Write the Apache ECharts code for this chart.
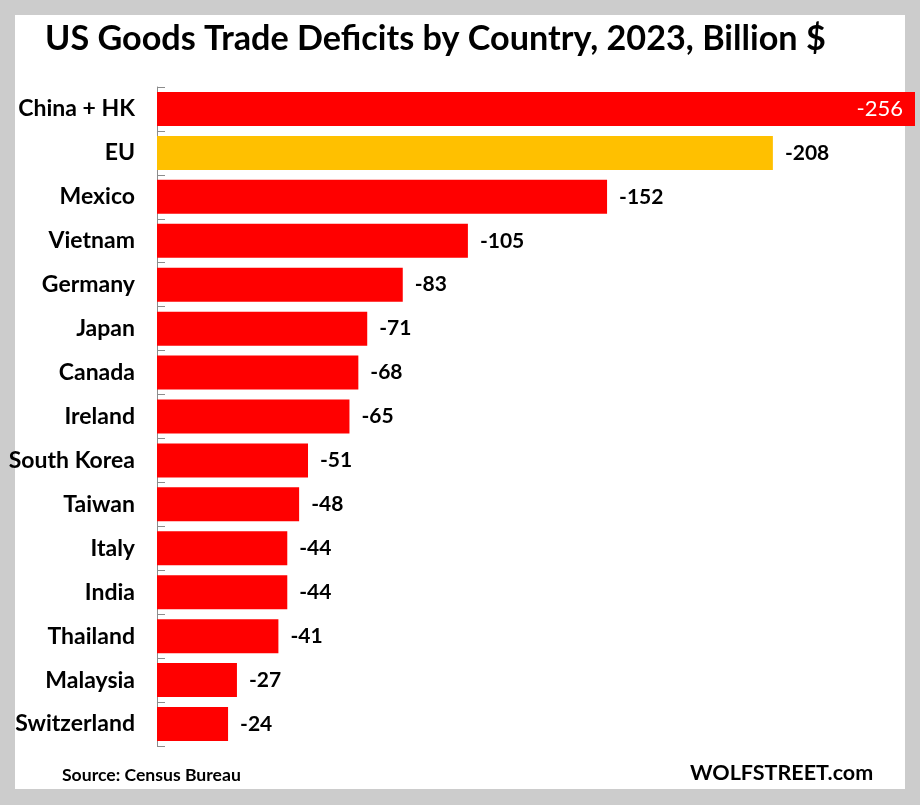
<!DOCTYPE html>
<html>
<head>
<meta charset="utf-8">
<script src="https://cdn.jsdelivr.net/npm/echarts@6/dist/echarts.min.js"></script>
<style>html,body{margin:0;padding:0;background:#cccccc;}#chart{width:920px;height:805px;}</style>
</head>
<body>
<div id="chart"></div>
<script>
const categories = ["China + HK","EU","Mexico","Vietnam","Germany","Japan","Canada","Ireland","South Korea","Taiwan","Italy","India","Thailand","Malaysia","Switzerland"];
const deficits = [-256,-208,-152,-105,-83,-71,-68,-65,-51,-48,-44,-44,-41,-27,-24];
const barColors = ["#ff0000","#ffc000","#ff0000","#ff0000","#ff0000","#ff0000","#ff0000","#ff0000","#ff0000","#ff0000","#ff0000","#ff0000","#ff0000","#ff0000","#ff0000"];
const titleText = "US Goods Trade Deficits by Country, 2023, Billion $";
const sourceText = "Source: Census Bureau";
const brandText = "WOLFSTREET.com";

const FONT = "Lato";
const chart = echarts.init(document.getElementById('chart'), null, {renderer:'canvas'});
const seriesData = deficits.map((v,i) => {
  const d = {value: v, itemStyle: {color: barColors[i]}};
  if (i === 0) {
    d.label = {position: 'insideRight', color: '#ffffff', fontWeight: 'normal', fontSize: 22, distance: 12};
  }
  return d;
});
chart.setOption({
  backgroundColor: '#cccccc',
  animation: false,
  graphic: [
    {type: 'rect', z: -10, shape: {x: 15, y: 15, width: 890, height: 774}, style: {fill: '#ffffff'}},
    {type: 'text', left: 45, top: 22, style: {text: titleText, font: 'bold 34.2px ' + FONT, fill: '#000000'}},
    {type: 'text', left: 62, top: 766, style: {text: sourceText, font: 'bold 17.6px ' + FONT, fill: '#000000'}},
    {type: 'text', left: 690, top: 762, style: {text: brandText, font: 'bold 21.5px ' + FONT, fill: '#000000'}}
  ],
  grid: {left: 157, top: 87, width: 758, height: 659, containLabel: false},
  xAxis: {
    type: 'value', inverse: true, min: -256, max: 0,
    show: false
  },
  yAxis: {
    type: 'category', inverse: true, data: categories,
    axisLine: {show: true, lineStyle: {color: '#8c8c8c', width: 1}},
    axisTick: {show: true, inside: true, length: 8, lineStyle: {color: '#8c8c8c'}},
    axisLabel: {margin: 22, color: '#000000', fontFamily: FONT, fontWeight: 'bold', fontSize: 23}
  },
  series: [{
    type: 'bar',
    data: seriesData,
    barWidth: 34,
    clip: false,
    label: {show: true, position: 'right', distance: 12, color: '#000000', fontFamily: FONT, fontWeight: 'bold', fontSize: 21,
      formatter: p => String(p.value)}
  }]
});
</script>
</body>
</html>
